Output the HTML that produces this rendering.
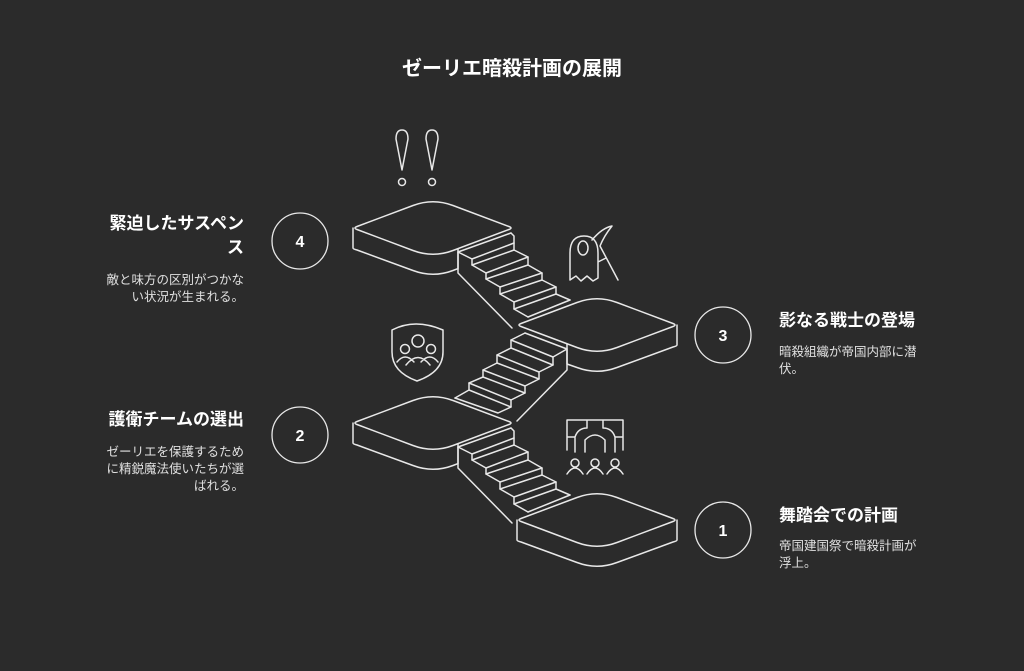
<!DOCTYPE html>
<html><head><meta charset="utf-8"><style>
body{margin:0;width:1024px;height:671px;background:#2b2b2b;overflow:hidden;font-family:"Liberation Sans","Noto Sans CJK JP",sans-serif;position:relative;color:#fff}
.t{position:absolute;font-weight:bold;font-size:17px}
.d{position:absolute;font-size:12.5px;color:#e0e0e0;line-height:17px}
.r{text-align:right}
</style></head><body>
<div class="t" style="left:0;width:1024px;text-align:center;top:52px;font-size:20px">ゼーリエ暗殺計画の展開</div>
<svg width="1024" height="671" style="position:absolute;left:0;top:0" fill="none" stroke="#e8e8e8" stroke-width="1.5" stroke-linejoin="round" stroke-linecap="round">
<defs>
<path id="top" d="M-76 28.5 L-20 7.5 Q0 0 20 7.5 L76 28.5 Q80 30 76 31.5 L20 52.5 Q0 60 -20 52.5 L-76 31.5 Q-80 30 -76 28.5 Z" fill="#2b2b2b"/>
<g id="platL">
<use href="#top"/>
<path d="M-80 30 V50 Q-80 51 -76 52 L-20 72.5 Q0 80 20 72.5 L25 70.6 V51"/>
</g>
<g id="platR3">
<use href="#top"/>
<path d="M-30 49 V69 L-20 72.5 Q0 80 20 72.5 L76 52 Q80 51 80 50 V30"/>
</g>
<g id="platR1">
<use href="#top"/>
<path d="M-80 30 V50 Q-80 51 -76 52 L-20 72.5 Q0 80 20 72.5 L76 52 Q80 51 80 50 V30"/>
</g>
<g id="stA">
<path d="M458 252 L511 233"/>
<path d="M458 252 L472 259 L472 265 L486 273 L486 279 L500 287 L500 294 L514 302 L514 309 L528 317"/>
<path d="M511 233 L514 236 L514 243 L514 250 L528 257 L528 265 L542 273 L542 280 L556 287 L556 294 L570 300"/>
<path d="M472 259 L514 243 M472 265 L514 250 M486 273 L528 257 M486 279 L528 265 M500 287 L542 273 M500 294 L542 280 M514 302 L556 287 M514 309 L556 294 M528 317 L570 300"/>
<path d="M458 252 V273 L512 328"/>
</g>
</defs>
<use href="#platL" x="433" y="198"/>
<use href="#stA"/>
<path d="M455 398 L469 390 L469 383 L483 377 L483 370 L497 363 L497 355 L511 348 L511 340 L525 333"/>
<path d="M455 398 L498 413 L511 407 L511 400 L525 393 L525 386 L539 379 L539 372 L553 365 L553 357 L567 349 V370 L517 421"/>
<path d="M469 390 L511 407 M469 383 L511 400 M483 377 L525 393 M483 370 L525 386 M497 363 L539 379 M497 355 L539 372 M511 348 L553 365 M511 340 L553 357 M525 333 L567 349"/>
<use href="#platR3" x="597" y="295"/>
<use href="#platL" x="433" y="393"/>
<use href="#stA" y="195"/>
<use href="#platR1" x="597" y="490"/>
<path d="M396 139 Q396 130 402 130 Q408 130 408 139 L402 170 Z M426 139 Q426 130 432 130 Q438 130 438 139 L432 170 Z"/>
<circle cx="402" cy="182" r="3.5"/><circle cx="432" cy="182" r="3.5"/>
<path d="M570 280 V253 Q570 236 584 236 Q598 236 598 253 V262 L606 258 M570 280 L576 276 L581 281 L587 276 L593 281 L598 278 V262"/>
<path d="M592 240 Q602 228 612 226 Q604 236 600 246 L618 280"/>
<ellipse cx="583" cy="248" rx="5" ry="7"/>
<path d="M392 330 Q415 318 443 330 V352 Q443 372 417 381 Q392 372 392 352 Z"/>
<circle cx="418" cy="341" r="6"/><circle cx="405" cy="349" r="4.5"/><circle cx="431" cy="349" r="4.5"/>
<path d="M397 362 Q405 352 414 362 M421 362 Q430 352 438 362 M406 365 Q418 350 430 365"/>
<path d="M567 450 V420 H623 V450 M567 437 H575 Q578 428 587 428 V420 M623 437 H615 Q612 428 603 428 V420 M585 452 V440 Q595 430 605 440 V452 M575 437 V452 M615 437 V452"/>
<circle cx="575" cy="463" r="4"/><path d="M567 474 Q575 462 583 474"/>
<circle cx="595" cy="463" r="4"/><path d="M587 474 Q595 462 603 474"/>
<circle cx="615" cy="463" r="4"/><path d="M607 474 Q615 462 623 474"/>
<g stroke-width="1.3">
<circle cx="300" cy="241" r="28"/><circle cx="723" cy="335" r="28"/>
<circle cx="300" cy="435" r="28"/><circle cx="723" cy="530" r="28"/>
</g>
<g fill="#fff" stroke="none" font-family="Liberation Sans,sans-serif" font-weight="bold" font-size="16" text-anchor="middle">
<text x="300" y="247">4</text><text x="723" y="341">3</text><text x="300" y="441">2</text><text x="723" y="536">1</text>
</g>
</svg>
<div class="t r" style="right:780px;top:212px;width:180px;line-height:24px">緊迫したサスペン<br>ス</div>
<div class="d r" style="right:780px;top:272px;width:200px">敵と味方の区別がつかな<br>い状況が生まれる。</div>
<div class="t r" style="right:780px;top:405px">護衛チームの選出</div>
<div class="d r" style="right:780px;top:444px;width:200px">ゼーリエを保護するため<br>に精鋭魔法使いたちが選<br>ばれる。</div>
<div class="t" style="left:779px;top:306px">影なる戦士の登場</div>
<div class="d" style="left:779px;top:344px;width:180px">暗殺組織が帝国内部に潜<br>伏。</div>
<div class="t" style="left:779px;top:501px">舞踏会での計画</div>
<div class="d" style="left:779px;top:538px;width:180px">帝国建国祭で暗殺計画が<br>浮上。</div>
</body></html>
